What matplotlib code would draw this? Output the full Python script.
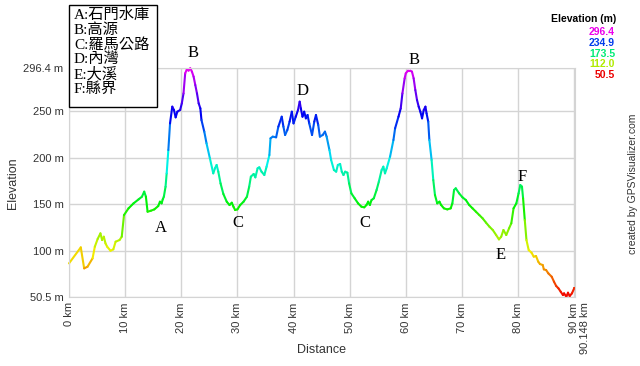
import colorsys
import numpy as np
import matplotlib.pyplot as plt
from matplotlib.collections import LineCollection
from matplotlib.patches import Rectangle

# profile (km, m)
dist_km = [0.0, 2.1, 2.7, 3.3, 4.2, 4.6, 5.1, 5.6, 5.9, 6.2, 6.5, 6.8, 7.4, 7.9, 8.3, 9.0, 9.4, 9.8,
           10.6, 11.5, 12.4, 13.0, 13.4, 13.7, 14.0, 14.6, 15.2, 15.9, 16.2, 16.5, 16.7, 16.9, 17.2,
           17.4, 17.7, 18.0, 18.4, 18.7, 19.0, 19.3, 19.8, 20.1, 20.4, 20.7, 21.0, 21.3, 21.6, 21.9,
           22.2, 22.5, 22.8, 23.1, 23.4, 23.6, 24.1, 24.5, 25.1, 25.7, 26.0, 26.3, 26.6, 27.0, 27.5,
           28.1, 28.6, 29.0, 29.3, 29.6, 30.0, 30.5, 31.1, 31.7, 32.1, 32.4, 32.9, 33.2, 33.6, 33.9,
           34.3, 34.8, 35.2, 35.7, 35.9, 36.3, 36.9, 37.3, 37.9, 38.2, 38.5, 38.9, 39.3, 39.7, 40.0,
           40.4, 40.8, 41.1, 41.3, 41.6, 41.9, 42.2, 42.5, 42.8, 43.3, 43.7, 44.0, 44.4, 44.7, 45.2,
           45.6, 45.9, 46.4, 46.7, 47.2, 47.6, 47.9, 48.3, 48.6, 48.9, 49.2, 49.6, 49.9, 50.3, 50.9,
           51.5, 52.1, 52.6, 53.0, 53.3, 53.6, 53.9, 54.3, 54.8, 55.2, 55.7, 56.0, 56.3, 56.6, 57.2,
           57.8, 58.1, 58.7, 59.1, 59.4, 59.8, 60.0, 60.4, 60.8, 61.1, 61.4, 61.7, 62.0, 62.3, 62.6,
           62.9, 63.2, 63.5, 63.7, 64.0, 64.2, 64.6, 64.9, 65.2, 65.6, 66.0, 66.3, 66.8, 67.4, 68.0,
           68.3, 68.6, 68.9, 69.5, 70.1, 70.7, 71.3, 71.9, 72.5, 73.1, 73.7, 74.3, 74.9, 75.5, 76.1,
           76.6, 77.0, 77.4, 77.9, 78.4, 78.8, 79.2, 79.7, 80.1, 80.4, 80.7, 80.9, 81.2, 81.5, 81.9,
           82.4, 82.8, 83.2, 83.6, 83.9, 84.4, 84.6, 85.0, 85.4, 86.0, 86.4, 86.8, 87.2, 87.6, 88.0,
           88.2, 88.6, 88.9, 89.2, 89.6, 90.0, 90.148]
elev_m = [86.4, 103.6, 81.0, 82.8, 91.8, 104.3, 112.6, 118.7, 111.5, 115.1, 107.9, 104.3, 100.0,
          101.5, 109.7, 111.5, 115.1, 138.4, 145.6, 151.0, 155.3, 158.2, 163.6, 158.2, 142.0, 143.1,
          144.5, 148.1, 152.8, 151.0, 155.3, 158.2, 168.9, 183.3, 208.4, 237.1, 255.1, 251.5, 243.6,
          249.7, 251.5, 258.7, 269.4, 291.0, 295.3, 293.9, 296.4, 292.8, 287.4, 278.4, 269.4, 258.7,
          253.3, 240.7, 228.2, 215.6, 199.5, 183.3, 188.7, 192.3, 185.1, 172.5, 161.1, 152.8, 149.2,
          151.7, 147.4, 143.8, 144.5, 149.2, 152.8, 158.2, 168.9, 179.7, 182.6, 179.0, 188.7, 189.8,
          185.1, 181.5, 190.5, 203.0, 221.0, 222.8, 222.1, 233.6, 244.3, 233.6, 224.6, 230.0, 239.0,
          249.7, 237.1, 244.3, 251.5, 260.5, 253.3, 244.3, 249.7, 242.5, 246.1, 237.1, 224.6, 239.0,
          246.1, 235.4, 222.8, 224.6, 228.2, 222.8, 208.4, 197.7, 186.9, 185.1, 192.3, 193.4, 185.1,
          181.5, 185.1, 184.0, 172.5, 161.8, 156.4, 151.0, 147.4, 146.7, 149.2, 152.8, 149.2, 154.6,
          156.4, 165.4, 174.3, 186.9, 190.5, 183.3, 188.7, 201.3, 219.2, 231.8, 244.3, 253.3, 269.4,
          285.6, 291.0, 293.9, 293.9, 292.8, 285.6, 273.0, 262.3, 255.1, 249.7, 242.5, 251.5, 255.1,
          247.9, 239.0, 219.2, 197.7, 176.1, 160.0, 151.0, 152.8, 149.2, 145.6, 144.5, 145.6, 151.0,
          165.4, 167.2, 161.8, 157.5, 154.6, 149.2, 145.6, 142.0, 138.4, 134.8, 130.2, 125.9, 122.3,
          116.9, 112.2, 115.1, 122.3, 116.9, 124.1, 129.5, 145.6, 151.0, 161.8, 170.7, 169.0, 156.4,
          133.1, 111.5, 100.7, 97.9, 93.6, 94.3, 88.2, 85.7, 84.6, 79.9, 79.2, 75.6, 72.0, 66.7,
          62.0, 59.5, 55.9, 52.3, 54.1, 50.5, 54.8, 51.2, 54.1, 59.5, 59.5]

elev_min, elev_max = 50.5, 296.4
legend_vals = [296.4, 234.9, 173.5, 112.0, 50.5]
y_ticks = [50.5, 100, 150, 200, 250, 296.4]
y_ticklabels = ['50.5 m', '100 m', '150 m', '200 m', '250 m', '296.4 m']
x_ticks = list(range(0, 100, 10))
total_km = 90.148

places = ['A:石門水庫', 'B:高源', 'C:羅馬公路', 'D:內灣', 'E:大溪', 'F:縣界']
marks = ['B', 'D', 'A', 'C', 'B', 'C', 'F', 'E']
mark_x = [22.1, 41.6, 16.3, 30.1, 61.4, 52.7, 80.7, 76.9]
mark_y = [312.5, 272.3, 124.1, 129.5, 305.3, 130.2, 179.7, 95.4]


def elev_color(v, val=0.95):
    # red at the bottom, magenta at the top
    h = (v - elev_min) / (elev_max - elev_min) * 300 / 360
    h = min(max(h, 0), 300 / 360)
    return colorsys.hsv_to_rgb(h, 1.0, val)


serif_cjk = ['Liberation Serif', 'Noto Sans CJK TC', 'DejaVu Sans']
grid_c = '#d4d4d4'
text_c = '#333333'

fig = plt.figure(figsize=(6.4, 3.66), dpi=100)
ax = fig.add_axes([69 / 640, 1 - 296.7 / 366, 506 / 640, 228.4 / 366])

x = np.array(dist_km)
y = np.array(elev_m)
pts = np.column_stack([x, y]).reshape(-1, 1, 2)
segs = np.concatenate([pts[:-1], pts[1:]], axis=1)
cols = [elev_color((a + b) / 2) for a, b in zip(y[:-1], y[1:])]
lc = LineCollection(segs, colors=cols, linewidths=1.5, capstyle='round', joinstyle='round')
lc.set_clip_on(False)
ax.add_collection(lc)

ax.set_xlim(0, total_km)
ax.set_ylim(elev_min, elev_max)
ax.set_xticks(x_ticks)
ax.set_xticklabels([f'{t} km' for t in x_ticks], rotation=90, family='Liberation Sans',
                   fontsize=8, color=text_c)
ax.set_yticks(y_ticks)
ax.set_yticklabels(y_ticklabels, family='Liberation Sans', fontsize=8, color=text_c)
ax.tick_params(length=0, pad=4)
ax.grid(True, color=grid_c, lw=1)
ax.set_axisbelow(True)
for s in ax.spines.values():
    s.set_color(grid_c)

ax.annotate(f'{total_km} km', xy=(total_km, 0), xycoords=('data', 'axes fraction'),
            xytext=(7, -4), textcoords='offset points', rotation=90, ha='center', va='top',
            family='Liberation Sans', fontsize=8, color=text_c)

ax.set_xlabel('Distance', family='Liberation Sans', fontsize=9, color=text_c, labelpad=8)
fig.text(13 / 640, 1 - 183 / 366, 'Elevation', rotation=90, ha='center', va='center',
         family='Liberation Sans', fontsize=9, color=text_c)

for m, mx, my in zip(marks, mark_x, mark_y):
    ax.text(mx, my, m, ha='center', va='center', family=serif_cjk, fontsize=12,
            color='black', clip_on=False)

# place name box
fig.patches.append(Rectangle((69 / 640, 1 - 107 / 366), 88 / 640, 102 / 366,
                             transform=fig.transFigure, facecolor='white',
                             edgecolor='black', lw=1, zorder=5))
for i, p in enumerate(places):
    fig.text(74 / 640, 1 - (15 + i * 14.8) / 366, p, ha='left', va='center',
             family=serif_cjk, fontsize=11, color='black', zorder=6)

# elevation colour key
fig.text(616 / 640, 1 - 19 / 366, 'Elevation (m)', ha='right', va='center',
         family='Liberation Sans', fontsize=7.5, fontweight='bold', color='black')
for i, v in enumerate(legend_vals):
    fig.text(615 / 640, 1 - (32 + i * 10.8) / 366, f'{v:.1f}', ha='right', va='center',
             family='Liberation Sans', fontsize=7.5, fontweight='bold', color=elev_color(v, 0.92))

fig.text(633 / 640, 1 - 184 / 366, 'created by GPSVisualizer.com', rotation=90,
         ha='center', va='center', family='Liberation Sans', fontsize=7.5, color=text_c)

fig.savefig('out.png', dpi=100)
